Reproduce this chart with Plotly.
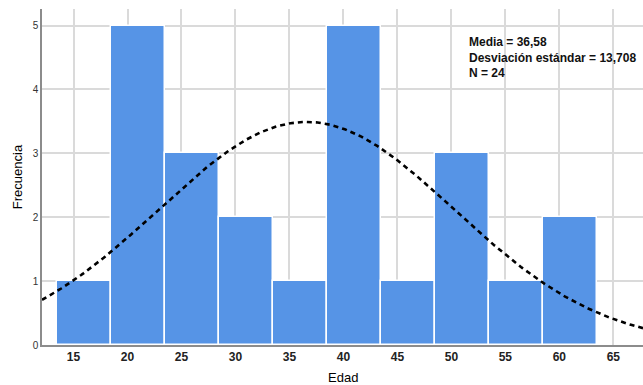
import numpy as np
import plotly.graph_objects as go

# Data
bin_start = 13.45
bin_width = 5
counts = [1, 5, 3, 2, 1, 5, 1, 3, 1, 2]
media = 36.58
desv = 13.708
n_total = 24
x_ticks = [15, 20, 25, 30, 35, 40, 45, 50, 55, 60, 65]
y_ticks = [0, 1, 2, 3, 4, 5]

centers = [bin_start + bin_width * (i + 0.5) for i in range(len(counts))]

x_min, x_max = 12.08, 67.75
xs = np.linspace(x_min, x_max, 400)
ys = n_total * bin_width / (desv * np.sqrt(2 * np.pi)) * np.exp(-0.5 * ((xs - media) / desv) ** 2)

fig = go.Figure()
fig.add_trace(go.Bar(
    x=centers, y=counts, width=bin_width,
    marker=dict(color="#5694E6", line=dict(color="white", width=1.5)),
    hoverinfo="skip",
))
fig.add_trace(go.Scatter(
    x=xs, y=ys, mode="lines",
    line=dict(color="black", width=2.6, dash="5px,4px"),
    hoverinfo="skip",
))

font_family = "Liberation Sans, Arial, sans-serif"
plot_h = 385 - 9 - 40
fig.update_layout(
    width=643, height=385,
    margin=dict(l=42, r=0, t=9, b=40),
    plot_bgcolor="white", paper_bgcolor="white",
    showlegend=False,
    bargap=0,
    font=dict(family=font_family, color="#222222"),
    xaxis=dict(
        range=[x_min, x_max], tickvals=x_ticks,
        showgrid=True, gridcolor="#dadada", gridwidth=1.5,
        showline=True, linecolor="#8c8c8c", linewidth=1.5,
        zeroline=False, ticks="",
        tickfont=dict(size=12, weight="bold", color="#222222"),
    ),
    yaxis=dict(
        range=[0, 5.26], tickvals=y_ticks,
        showgrid=True, gridcolor="#dadada", gridwidth=1.5,
        showline=True, linecolor="#8c8c8c", linewidth=1.5,
        zeroline=False, ticks="",
        tickfont=dict(size=10, color="#333333"),
        title=dict(text="Frecuencia", font=dict(size=13, color="#000000"), standoff=7),
    ),
    annotations=[
        dict(
            xref="paper", yref="paper", x=(467 - 42) / 601, y=(345 - 33) / plot_h,
            xanchor="left", yanchor="top", align="left", showarrow=False,
            text="Media = 36,58<br>Desviación estándar = 13,708<br>N = 24",
            font=dict(size=12, weight="bold", color="#111111", family=font_family),
        ),
        dict(
            xref="paper", yref="paper", x=0.5, y=(345 - 377.5) / plot_h,
            xanchor="center", yanchor="middle", showarrow=False,
            text="Edad", font=dict(size=13, color="#000000", family=font_family),
        ),
    ],
)

fig.write_html("out.html")
